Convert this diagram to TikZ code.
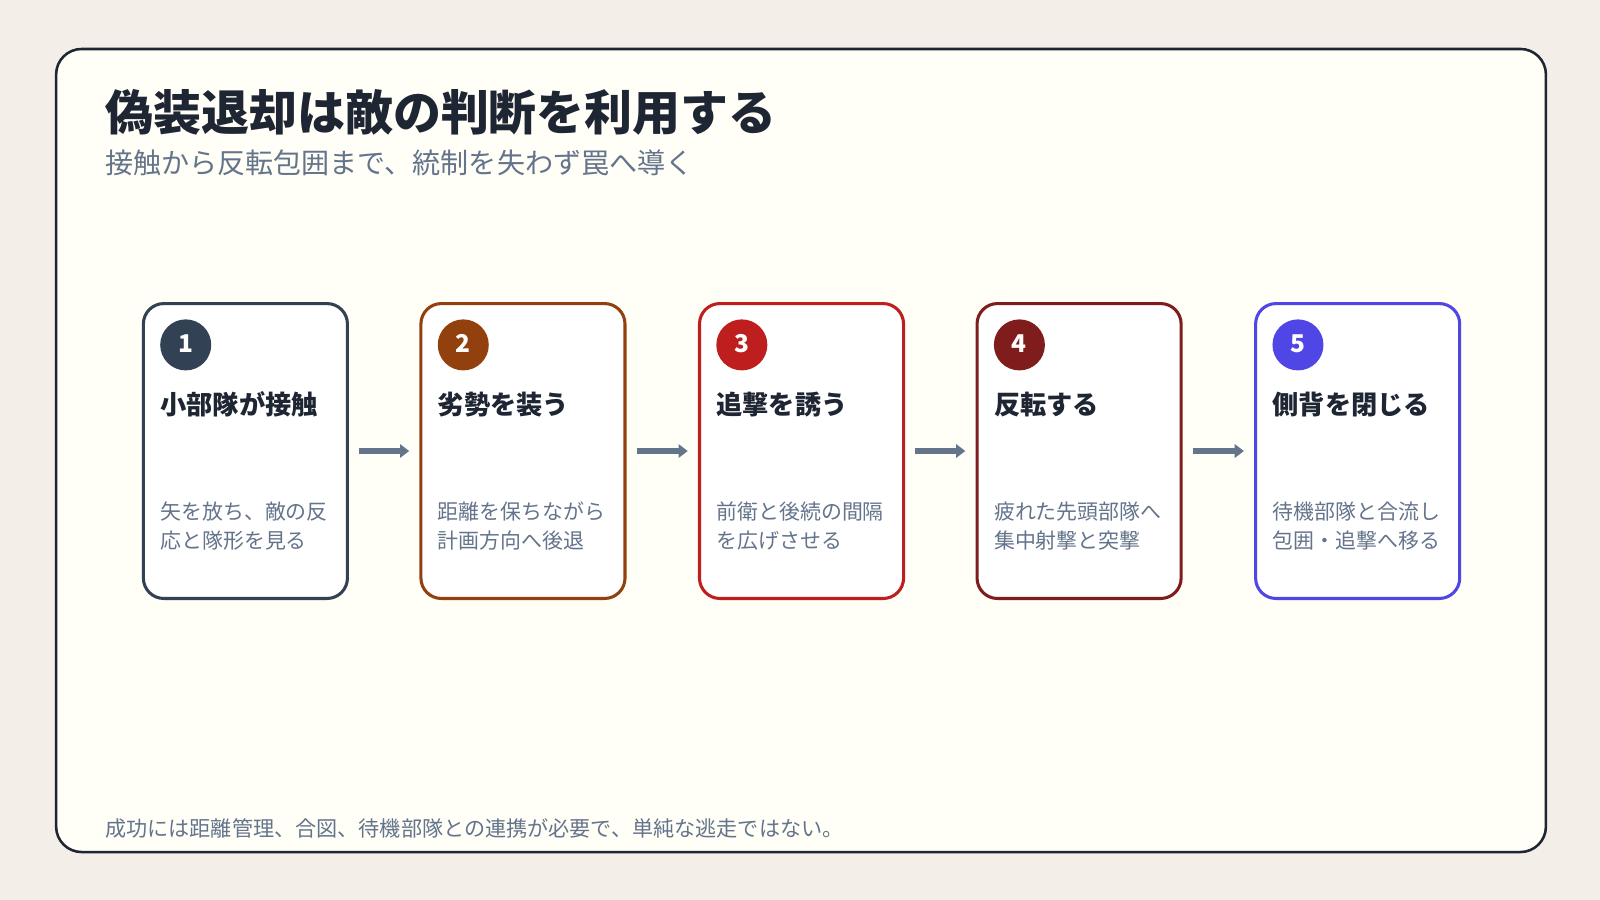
\documentclass[tikz,border=0pt]{standalone}
\usepackage{fontspec}
\usetikzlibrary{arrows.meta}
\setmainfont{Noto Sans CJK JP}
\definecolor{bg}{HTML}{F3EFE8}
\definecolor{panel}{HTML}{FFFEF7}
\definecolor{ink}{HTML}{1E2533}
\definecolor{sub}{HTML}{64748B}
\definecolor{cA}{HTML}{334155}
\definecolor{cB}{HTML}{92400E}
\definecolor{cC}{HTML}{BE1E1E}
\definecolor{cD}{HTML}{7F1D1D}
\definecolor{cE}{HTML}{4F46E5}
\definecolor{arr}{HTML}{64748B}
\begin{document}
\begin{tikzpicture}[x=1pt,y=-1pt,
  card/.style={draw=#1,line width=3pt,rounded corners=20pt,fill=white,minimum width=200pt,minimum height=289pt,inner sep=0pt},
  num/.style={circle,fill=#1,minimum size=50pt,inner sep=0pt,text=white,font=\fontsize{24}{24}\selectfont\bfseries},
  head/.style={anchor=base west,text=ink,font=\fontsize{25.7}{25.7}\selectfont\bfseries,inner sep=0pt},
  desc/.style={anchor=north west,text=sub,font=\fontsize{20.5}{28}\selectfont,align=left,inner sep=0pt},
  link/.style={draw=arr,line width=5pt,-{Triangle[length=9pt,width=13pt]}}]
\useasboundingbox (0,0) rectangle (1568,882);
\fill[bg] (0,0) rectangle (1568,882);
\draw[fill=panel,draw=ink,line width=2.5pt,rounded corners=25pt] (55,48) rectangle (1515,835);
\node[anchor=base west,inner sep=0pt,text=ink,font=\fontsize{47}{47}\selectfont\bfseries] (title) at (103,128) {偽装退却は敵の判断を利用する};
\node[anchor=base west,inner sep=0pt,text=sub,font=\fontsize{27.5}{27.5}\selectfont] (subt) at (103,170) {接触から反転包囲まで、統制を失わず罠へ導く};
\node[anchor=base west,inner sep=0pt,text=sub,font=\fontsize{20.7}{20.7}\selectfont] (foot) at (103,820) {成功には距離管理、合図、待機部隊との連携が必要で、単純な逃走ではない。};
\foreach \i/\x/\c/\h/\d in {1/139/cA/小部隊が接触/{矢を放ち、敵の反\\応と隊形を見る},
  2/411/cB/劣勢を装う/{距離を保ちながら\\計画方向へ後退},
  3/684/cC/追撃を誘う/{前衛と後続の間隔\\を広げさせる},
  4/956/cD/反転する/{疲れた先頭部隊へ\\集中射撃と突撃},
  5/1229/cE/側背を閉じる/{待機部隊と合流し\\包囲・追撃へ移る}}{
  \node[card=\c,anchor=north west] (k\i) at (\x,296) {};
  \node[num=\c] (n\i) at (\x+43,338) {\raisebox{3pt}{\i}};
  \node[head] (h\i) at (\x+18,406) {\h};
  \node[desc] (d\i) at (\x+18,492) {\d};
}
\foreach \a/\b in {1/2,2/3,3/4,4/5}{
  \draw[link] ([xshift=10pt]k\a.east) -- ([xshift=-10pt]k\b.west);
}
\end{tikzpicture}
\end{document}
